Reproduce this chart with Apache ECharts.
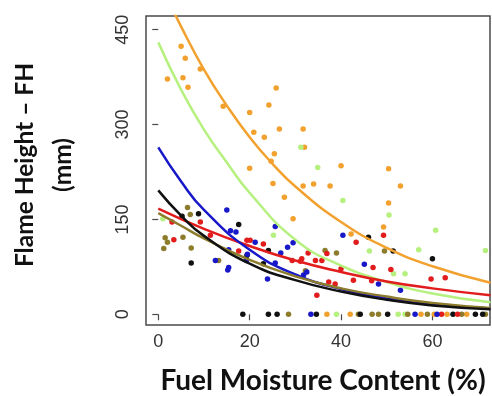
<!DOCTYPE html>
<html><head><meta charset="utf-8">
<script src="https://cdn.jsdelivr.net/npm/echarts@6/dist/echarts.min.js"></script>
<style>html,body{margin:0;padding:0;background:#fff}#c{width:492px;height:396px}</style>
</head><body><div id="c"></div>
<script>
// Tick labels
var xTicks = [0, 20, 40, 60];
var yTicks = [0, 150, 300, 450];

// Observed points [moisture %, flame height mm]
var orangePts = [[2.0,372],[5.0,424],[5.9,405],[5.4,374],[6.5,359],[9.2,388],[14.2,329],[20.0,319],[20.9,288],[23.2,280],[24.2,331],[25.8,358],[26.5,293],[25.4,254],[20.0,231],[24.7,242],[25.1,207],[27.6,185],[29.5,151],[31.7,293],[32.0,264],[31.7,203],[34.0,206],[37.6,203],[40.0,235],[42.2,127],[49.3,138],[50.4,230],[50.4,176],[53.0,203],[36.9,0],[42.0,0],[57.5,0],[60.4,0],[63.2,0],[67.5,0]];
var greenPts = [[1.0,151],[25.2,125],[31.2,264],[34.9,232],[40.4,180],[46.2,100],[50.5,157],[51.5,64],[54.0,64],[57.0,102],[60.7,133],[71.6,101],[39.0,0],[52.5,0],[54.0,0]];
var bluePts = [[15.0,165],[15.8,132],[17.0,130],[15.4,102],[12.5,85],[15.4,74],[15.2,70],[21.2,114],[19.5,95],[19.3,85],[25.6,139],[29.5,113],[28.3,106],[26.8,97],[25.6,81],[23.9,56],[31.8,62],[32.5,67],[40.4,125],[45.1,79],[48.2,48],[53.0,38],[33.4,0],[56.2,0],[61.0,0]];
var redPts = [[3.0,146],[3.4,118],[9.2,146],[11.4,125],[17.6,100],[19.4,117],[20.1,117],[23.0,111],[29.3,85],[31.1,84],[31.4,88],[32.8,97],[34.4,85],[35.8,85],[36.9,96],[40.0,72],[37.3,51],[38.7,48],[34.7,30],[42.7,54],[43.3,114],[46.7,53],[47.0,74],[49.3,125],[50.9,71],[59.7,56],[62.8,58],[62.0,0],[65.5,0]];
var blackPts = [[5.2,155],[8.8,159],[7.2,81],[17.6,142],[19.4,93],[23.0,80],[24.1,101],[46.0,122],[51.4,100],[60.0,88],[18.5,0],[24.1,0],[26.0,0],[34.6,0],[44.2,0],[50.2,0],[64.5,0],[69.4,0],[71.0,0]];
var olivePts = [[1.2,104],[1.5,121],[2.0,114],[5.4,122],[6.4,169],[7.0,158],[7.2,105],[13.2,85],[32.2,69],[36.5,101],[39.0,97],[49.5,100],[28.5,0],[43.8,0],[46.8,0],[48.2,0],[54.6,0],[58.9,0],[66.4,0],[71.6,0]];

// Fitted curves
var orangeFit = [[2,500],[5,455],[10,387],[15,330],[20,280],[25,238],[30,202],[40,146],[50,105],[60,76],[72.7,50]];
var greenFit = [[0,430],[5,355],[10,292],[15,240],[20,192],[30,118],[40,77],[50,51],[60,33],[72.7,19]];
var blueFit = [[0,264],[5,210],[10,165],[20,102],[30,63],[40,40],[50,25],[60,16],[72.7,9]];
var redFit = [[0,167],[10,135],[20,108],[30,85],[40,67],[50,52],[60,41],[72.7,30]];
var blackFit = [[0,196],[5,156],[10,124],[20,80],[30,54],[40,36],[50,23],[60,14],[72.7,8]];
var oliveFit = [[0,160],[5,140],[10,120],[20,86],[30,60],[40,41],[50,28],[60,18],[72.7,10]];

var C = {orange:'#F2A12E', green:'#B6F07E', blue:'#1818C8', red:'#E21C1C', black:'#111111', olive:'#8C7C2C'};

function sc(name, data, color){
  return {type:'scatter', name:name, data:data, symbolSize:5.5, itemStyle:{color:color, opacity:1}, z:2, silent:true};
}
function ln(name, data, color){
  return {type:'line', name:name, data:data, smooth:true, showSymbol:false, clip:true,
    lineStyle:{color:color, width:2.5}, z:3, silent:true};
}

var chart = echarts.init(document.getElementById('c'), null, {renderer:'canvas'});
chart.setOption({
  animation:false,
  backgroundColor:'#fff',
  grid:{left:146, right:2, top:16, bottom:71, show:true, borderColor:'#4a4a4a', borderWidth:1.5, backgroundColor:'transparent'},
  xAxis:{type:'value', min:-2.69, max:72.6,
    axisLine:{show:false}, splitLine:{show:false},
    axisTick:{show:true, length:6, inside:false, customValues:xTicks, lineStyle:{color:'#4a4a4a', width:1.2}},
    axisLabel:{customValues:xTicks, margin:8, fontSize:18, color:'#333', fontFamily:'Liberation Sans, Arial, sans-serif'}},
  yAxis:{type:'value', min:-16.9, max:471.7,
    axisLine:{show:false}, splitLine:{show:false},
    axisTick:{show:true, length:6, inside:false, customValues:yTicks, lineStyle:{color:'#4a4a4a', width:1.2}},
    axisLabel:{customValues:yTicks, rotate:90, margin:14, fontSize:18, color:'#333', fontFamily:'Liberation Sans, Arial, sans-serif'}},
  graphic:[
    {type:'text', x:323, y:381, style:{text:'Fuel Moisture Content (%)', font:'bold 28px Lato, "Noto Sans", sans-serif', fill:'#111', textAlign:'center', textVerticalAlign:'middle'}},
    {type:'text', x:44, y:165, rotation:Math.PI/2, style:{text:'Flame Height \u2013 FH\n(mm)', font:'bold 24.5px Lato, "Noto Sans", sans-serif', lineHeight:38, fill:'#111', textAlign:'center', textVerticalAlign:'middle'}}
  ],
  series:[
    sc('orange', orangePts, C.orange), sc('green', greenPts, C.green), sc('olive', olivePts, C.olive),
    sc('black', blackPts, C.black), sc('red', redPts, C.red), sc('blue', bluePts, C.blue),
    ln('orange fit', orangeFit, C.orange), ln('green fit', greenFit, C.green), ln('red fit', redFit, C.red),
    ln('blue fit', blueFit, C.blue), ln('olive fit', oliveFit, C.olive), ln('black fit', blackFit, C.black)
  ]
});
</script></body></html>
